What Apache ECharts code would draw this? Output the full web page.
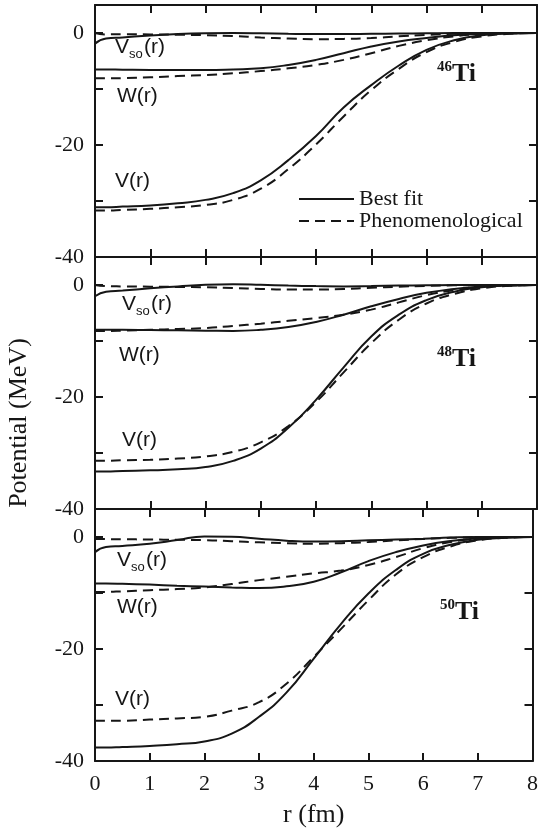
<!DOCTYPE html>
<html><head><meta charset="utf-8">
<script src="https://cdn.jsdelivr.net/npm/echarts@6/dist/echarts.min.js"></script>
<style>html,body{margin:0;padding:0;background:#fff}#c{width:541px;height:835px}</style>
</head><body><div id="c"></div>
<script>
// radius grid (fm)
const R = [0, 0.2, 0.5, 1, 1.5, 2, 2.5, 3, 3.5, 4, 4.5, 5, 5.5, 6, 6.5, 7, 7.5, 8];
const X_TICKS = [0, 1, 2, 3, 4, 5, 6, 7, 8];
const Y_LABELS = [0, -20, -40];

// 46Ti
const TI46_V_FIT   = [-31.1,-31.1,-31.0,-30.8,-30.4,-29.8,-28.6,-26.3,-22.7,-18.4,-13.3,-9.3,-5.8,-3.0,-1.3,-0.4,-0.1,0];
const TI46_V_PHEN  = [-31.7,-31.7,-31.6,-31.4,-31.1,-30.7,-29.8,-27.8,-24.3,-19.9,-14.9,-10.2,-6.4,-3.4,-1.6,-0.6,-0.15,0];
const TI46_W_FIT   = [-6.5,-6.5,-6.55,-6.6,-6.6,-6.6,-6.5,-6.3,-5.7,-4.8,-3.6,-2.4,-1.5,-0.9,-0.4,-0.15,-0.05,0];
const TI46_W_PHEN  = [-8.1,-8.1,-8.05,-7.9,-7.7,-7.5,-7.2,-6.8,-6.3,-5.7,-4.8,-3.6,-2.3,-1.3,-0.6,-0.2,-0.05,0];
const TI46_SO_FIT  = [-1.9,-1.0,-0.8,-0.45,-0.2,-0.05,0,-0.05,-0.15,-0.2,-0.2,-0.15,-0.1,-0.05,0,0,0,0];
const TI46_SO_PHEN = [0,-0.25,-0.2,-0.25,-0.3,-0.4,-0.55,-0.8,-1.0,-1.1,-1.05,-0.9,-0.6,-0.35,-0.15,-0.05,0,0];

// 48Ti
const TI48_V_FIT   = [-33.3,-33.3,-33.2,-33.1,-32.9,-32.5,-31.4,-29.2,-25.5,-20.5,-14.7,-9.2,-5.3,-2.7,-1.2,-0.4,-0.1,0];
const TI48_V_PHEN  = [-31.4,-31.4,-31.3,-31.2,-31.0,-30.6,-29.8,-28.1,-25.2,-20.9,-15.6,-10.4,-6.2,-3.3,-1.6,-0.6,-0.15,0];
const TI48_W_FIT   = [-8.0,-8.0,-8.0,-8.05,-8.1,-8.15,-8.2,-8.0,-7.5,-6.6,-5.3,-3.8,-2.5,-1.4,-0.7,-0.25,-0.05,0];
const TI48_W_PHEN  = [-8.2,-8.2,-8.15,-8.0,-7.85,-7.7,-7.3,-6.9,-6.4,-5.9,-5.3,-4.4,-3.1,-1.8,-0.9,-0.3,-0.1,0];
const TI48_SO_FIT  = [-2.0,-1.2,-1.0,-0.6,-0.25,0.05,0.15,0.05,-0.1,-0.2,-0.25,-0.2,-0.1,-0.05,0,0,0,0];
const TI48_SO_PHEN = [0,-0.2,-0.25,-0.3,-0.35,-0.4,-0.55,-0.7,-0.8,-0.8,-0.7,-0.5,-0.3,-0.15,-0.05,0,0,0];

// 50Ti
const TI50_V_FIT   = [-37.6,-37.6,-37.5,-37.3,-37.0,-36.5,-35.1,-32.1,-27.8,-21.7,-15.5,-10.1,-5.9,-3.0,-1.4,-0.5,-0.15,0];
const TI50_V_PHEN  = [-32.8,-32.8,-32.8,-32.6,-32.4,-32.1,-31.0,-29.5,-26.2,-21.4,-16.4,-11.3,-6.7,-3.6,-1.7,-0.6,-0.15,0];
const TI50_W_FIT   = [-8.3,-8.3,-8.35,-8.5,-8.7,-8.85,-9.0,-9.1,-8.8,-8.0,-6.3,-4.3,-2.7,-1.5,-0.7,-0.25,-0.05,0];
const TI50_W_PHEN  = [-9.8,-9.8,-9.7,-9.5,-9.3,-9.0,-8.4,-7.7,-7.1,-6.5,-6.0,-5.0,-3.6,-2.0,-0.9,-0.3,-0.05,0];
const TI50_SO_FIT  = [-2.7,-1.8,-1.6,-1.2,-0.55,0.1,0.05,-0.3,-0.65,-0.8,-0.75,-0.6,-0.45,-0.3,-0.1,0,0,0];
const TI50_SO_PHEN = [-0.35,-0.38,-0.4,-0.45,-0.5,-0.55,-0.75,-0.95,-1.1,-1.2,-1.1,-0.9,-0.6,-0.35,-0.15,-0.05,0,0];

const NUCLEI = ['46', '48', '50'];
const FIT_NAME = 'Best fit';
const PHEN_NAME = 'Phenomenological';

const panels = [
  [TI46_V_FIT, TI46_V_PHEN, TI46_W_FIT, TI46_W_PHEN, TI46_SO_FIT, TI46_SO_PHEN],
  [TI48_V_FIT, TI48_V_PHEN, TI48_W_FIT, TI48_W_PHEN, TI48_SO_FIT, TI48_SO_PHEN],
  [TI50_V_FIT, TI50_V_PHEN, TI50_W_FIT, TI50_W_PHEN, TI50_SO_FIT, TI50_SO_PHEN]
];

const SERIF = "'Liberation Serif','Times New Roman',serif";
const SANS = "'Liberation Sans',Arial,sans-serif";
const INK = '#161616';

const GRID_TOP = [5, 257, 509];
const GRID_H = 252;

const grid = [], xAxis = [], yAxis = [], series = [];
const axisLine = { onZero: false, lineStyle: { color: INK, width: 2 } };
const axisTick = { inside: true, length: 8, lineStyle: { color: INK, width: 2 } };

panels.forEach((arrs, i) => {
  grid.push({ left: 95, right: 4, top: GRID_TOP[i], height: GRID_H });
  const last = i === panels.length - 1;
  xAxis.push({
    gridIndex: i, type: 'value', min: 0, max: 8, interval: 1, position: 'bottom',
    axisLine, axisTick, splitLine: { show: false },
    axisLabel: { show: last, color: INK, fontFamily: SERIF, fontSize: 22, margin: 12,
      formatter: v => X_TICKS.includes(v) ? String(v) : '' },
    name: last ? 'r (fm)' : '', nameLocation: 'middle', nameGap: 41,
    nameTextStyle: { color: INK, fontFamily: SERIF, fontSize: 26 }
  });
  xAxis.push({
    gridIndex: i, type: 'value', min: 0, max: 8, interval: 1, position: 'top',
    axisLine, axisTick, splitLine: { show: false }, axisLabel: { show: false }
  });
  yAxis.push({
    gridIndex: i, type: 'value', min: -40, max: 5, interval: 10, position: 'left',
    axisLine, axisTick, splitLine: { show: false },
    axisLabel: { color: INK, fontFamily: SERIF, fontSize: 22, margin: 11,
      formatter: v => Y_LABELS.includes(v) ? String(v) : '' }
  });
  yAxis.push({
    gridIndex: i, type: 'value', min: -40, max: 5, interval: 10, position: 'right',
    axisLine, axisTick, splitLine: { show: false }, axisLabel: { show: false }
  });
  arrs.forEach((arr, k) => {
    const fit = k % 2 === 0;
    series.push({
      name: fit ? FIT_NAME : PHEN_NAME,
      type: 'line', xAxisIndex: 2 * i, yAxisIndex: 2 * i,
      data: R.map((r, j) => [r, arr[j]]),
      symbol: 'none', showSymbol: false, smooth: 0.5,
      lineStyle: { color: INK, width: 2, type: fit ? 'solid' : [10, 6] },
      itemStyle: { color: INK },
      z: fit ? 3 : 2
    });
  });
});

// curve labels (V_so, W, V) and nucleus labels
const LABEL_POS = [
  { so: [115, 47], w: [117, 96], v: [115, 181], nuc: [452, 74] },
  { so: [122, 304], w: [119, 355], v: [122, 440], nuc: [452, 359] },
  { so: [117, 560], w: [117, 607], v: [115, 699], nuc: [455, 612] }
];
const graphic = [];
const txt = (x, y, text, font, align) => ({
  type: 'text', silent: true,
  style: { x, y, text, font, fill: INK, textAlign: align || 'left', textVerticalAlign: 'middle' }
});
LABEL_POS.forEach((p, i) => {
  graphic.push(txt(p.so[0], p.so[1], 'V', '21px ' + SANS));
  graphic.push(txt(p.so[0] + 14, p.so[1] + 7, 'so', '13px ' + SANS));
  graphic.push(txt(p.so[0] + 29, p.so[1], '(r)', '21px ' + SANS));
  graphic.push(txt(p.w[0], p.w[1], 'W(r)', '21px ' + SANS));
  graphic.push(txt(p.v[0], p.v[1], 'V(r)', '21px ' + SANS));
  graphic.push(txt(p.nuc[0], p.nuc[1], 'Ti', 'bold 26px ' + SERIF));
  graphic.push(txt(p.nuc[0], p.nuc[1] - 7, NUCLEI[i], 'bold 15px ' + SERIF, 'right'));
});
graphic.push({
  type: 'text', silent: true, x: 19, y: 423, rotation: Math.PI / 2,
  style: { x: 0, y: 0, text: 'Potential (MeV)', font: '26px ' + SERIF, fill: INK,
    textAlign: 'center', textVerticalAlign: 'middle' }
});

const chart = echarts.init(document.getElementById('c'), null, { renderer: 'canvas' });
chart.setOption({
  backgroundColor: '#fff',
  animation: false,
  grid, xAxis, yAxis, series, graphic,
  legend: {
    data: [FIT_NAME, PHEN_NAME], orient: 'vertical', left: 293, top: 183,
    itemWidth: 55, itemHeight: 14, itemGap: 0, selectedMode: false,
    itemStyle: { opacity: 0 },
    textStyle: { color: INK, fontFamily: SERIF, fontSize: 22, lineHeight: 20 }
  }
});
</script>
</body></html>
